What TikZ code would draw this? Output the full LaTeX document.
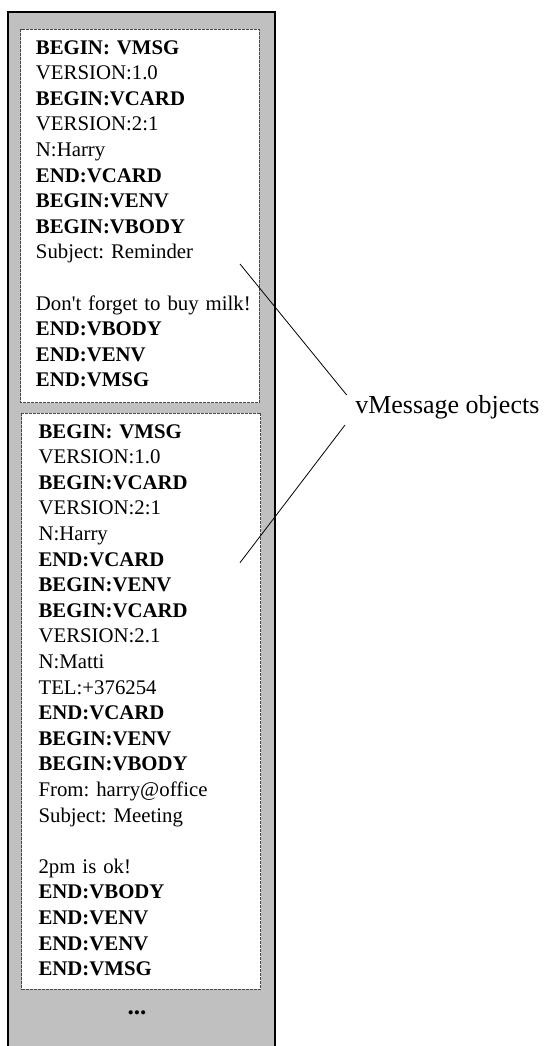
\documentclass[tikz,border=0pt]{standalone}
\usepackage{fontspec}
\setmainfont{Liberation Serif}
\definecolor{panelgray}{RGB}{192,192,192}
\definecolor{boxedge}{RGB}{70,70,70}
\begin{document}
\begin{tikzpicture}[x=0.75pt,y=-0.75pt,
  listing/.style={anchor=base west, align=left, inner sep=0pt,
    text width=170pt, font=\fontsize{15.6}{19.2}\selectfont\frenchspacing},
  objbox/.style={draw=boxedge, fill=white, line width=0.6pt,
    dash pattern=on 2.25pt off 0.75pt},
  pointer/.style={draw=black, line width=0.6pt},
  caption/.style={anchor=base west, inner sep=0pt,
    font=\fontsize{19.5}{23}\selectfont}]
\useasboundingbox (0,0) rectangle (545,1046);

% storage panel holding the objects
\fill[panelgray] (8,12) rectangle (275,1046);
\draw[black, line width=0.8pt] (8,1046) -- (8,12) -- (275,12) -- (275,1046);

% the two object frames
\draw[objbox] (20.7,29) rectangle (259.3,402.7);
\draw[objbox] (21.7,413) rectangle (260.7,989);

\node[listing] (msgA) at (35.7,54) {%
\textbf{BEGIN: VMSG}\\
VERSION:1.0\\
\textbf{BEGIN:VCARD}\\
VERSION:2:1\\
N:Harry\\
\textbf{END:VCARD}\\
\textbf{BEGIN:VENV}\\
\textbf{BEGIN:VBODY}\\
Subject: Reminder\\[19.2pt]
Don\textquotesingle t forget to buy milk!\\
\textbf{END:VBODY}\\
\textbf{END:VENV}\\
\textbf{END:VMSG}};

\node[listing] (msgB) at (38.3,438) {%
\textbf{BEGIN: VMSG}\\
VERSION:1.0\\
\textbf{BEGIN:VCARD}\\
VERSION:2:1\\
N:Harry\\
\textbf{END:VCARD}\\
\textbf{BEGIN:VENV}\\
\textbf{BEGIN:VCARD}\\
VERSION:2.1\\
N:Matti\\
TEL:+376254\\
\textbf{END:VCARD}\\
\textbf{BEGIN:VENV}\\
\textbf{BEGIN:VBODY}\\
From: harry@office\\
Subject: Meeting\\[19.2pt]
2pm is ok!\\
\textbf{END:VBODY}\\
\textbf{END:VENV}\\
\textbf{END:VENV}\\
\textbf{END:VMSG}};

\node[inner sep=0pt, font=\bfseries\fontsize{19}{22}\selectfont] (more) at (137,1013) {...};

% caption and its pointers
\node[caption] (objects) at (355,413.3) {vMessage objects};
\coordinate (tipA) at (240,264);
\coordinate (endA) at (346.7,395);
\coordinate (tipB) at (240,562.7);
\coordinate (endB) at (345,425);
\draw[pointer] (tipA) -- (endA);
\draw[pointer] (tipB) -- (endB);
\end{tikzpicture}
\end{document}
